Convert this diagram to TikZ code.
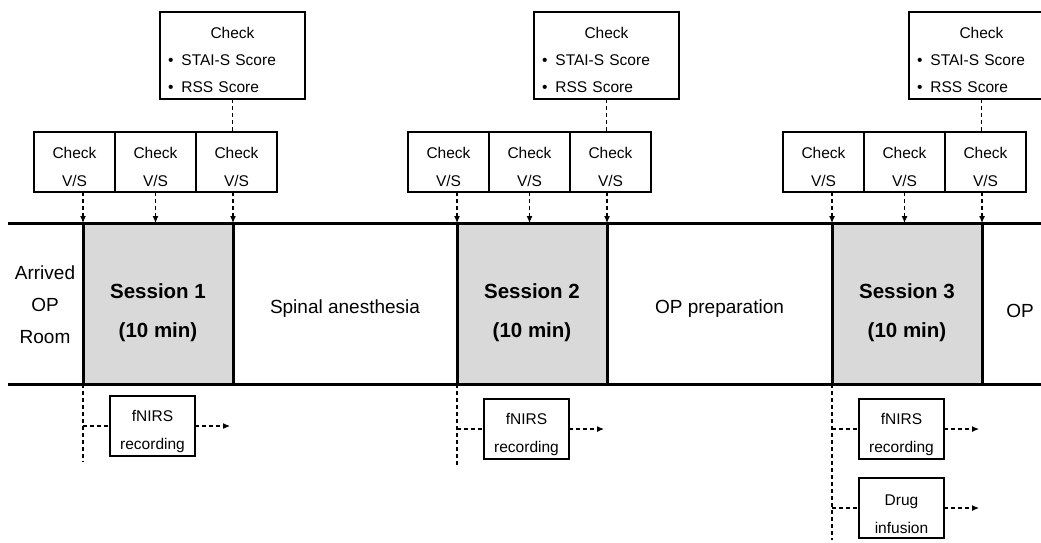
\documentclass[tikz,border=0pt]{standalone}
\usepackage{fontspec}
\setmainfont{Liberation Sans}
\usetikzlibrary{arrows.meta, positioning, calc}
\definecolor{sessiongray}{HTML}{D9D9D9}

\begin{document}
\begin{tikzpicture}[
    x=1pt, y=-1pt,
    node distance=0pt,
    vsbox/.style={draw, line width=1.4pt, outer sep=0pt, inner sep=0pt,
                  minimum width=81pt, minimum height=60pt, align=center,
                  text height=49pt, font=\fontsize{15.5}{28}\selectfont},
    scorebox/.style={draw, line width=1.4pt, outer sep=0pt, inner xsep=8pt, inner ysep=0pt,
                  text width=129pt, minimum height=87pt, align=left,
                  text height=21pt, font=\fontsize{15.5}{27}\selectfont},
    recbox/.style={draw, line width=1.4pt, outer sep=0pt, inner sep=0pt,
                  minimum width=85pt, minimum height=60pt, align=center,
                  text height=51pt, font=\fontsize{15.5}{28}\selectfont},
    session/.style={draw, line width=3pt, fill=sessiongray, outer sep=0pt,
                  minimum width=150pt, minimum height=161pt, align=center,
                  text height=73pt, font=\bfseries\fontsize{20.5}{39}\selectfont},
    phase/.style={align=center, font=\fontsize{19}{32}\selectfont},
    link/.style={dash pattern=on 4pt off 3pt, line width=1.1pt},
    arrow/.style={link, -{Latex[length=7pt, width=6pt]}}
]
\useasboundingbox (0,0) rectangle (1041,542);

\foreach \i/\L/\F/\E in {1/83/426/462, 2/457/429/467, 3/832/429/540} {
    \node[session] (s\i) at (\L+75,303.5) {Session \i\\(10 min)};
    \node[vsbox, anchor=south east] (vsa\i) at (\L+32,192) {Check\\V/S};
    \node[vsbox, right=of vsa\i] (vsb\i) {Check\\V/S};
    \node[vsbox, right=of vsb\i] (vsc\i) {Check\\V/S};
    \node[scorebox, anchor=north west] (score\i) at (\L+77,12)
        {\makebox[\linewidth]{Check}\\ \textbullet\hspace{8pt}STAI-S Score\\ \textbullet\hspace{8pt}RSS Score};
    \node[recbox] (rec\i) at (\L+69.5,\F) {fNIRS\\recording};
    \coordinate (end\i) at (\L,\E);
    \coordinate (out\i) at (\L+147,\F);

    % vital signs checked at the session borders
    \draw[arrow] (vsa\i.south -| s\i.west) -- (s\i.north west);
    \draw[arrow] (vsb\i.south) -- (vsb\i.south |- s\i.north);
    \draw[arrow] (vsc\i.south -| s\i.east) -- (s\i.north east);
    \draw[link] (score\i.south) -- (score\i.south |- vsc\i.north);

    % recording branch below the timeline
    \draw[link] (s\i.south west) -- (end\i);
    \draw[link] (rec\i.west -| end\i) -- (rec\i.west);
    \draw[arrow] (rec\i.east) -- (out\i);
}

\node[recbox, below=19pt of rec3] (drug) {Drug\\infusion};
\coordinate (drugout) at (out3 |- drug.east);
\draw[link] (drug.west -| end3) -- (drug.west);
\draw[arrow] (drug.east) -- (drugout);

% timeline band
\draw[line width=3pt] (8,223) -- (1045,223);
\draw[line width=3pt] (8,384) -- (1045,384);

\node[phase] (arrived) at (45,305) {Arrived\\OP\\Room};
\node[phase] (spinal) at ($(s1.east)!0.5!(s2.west)+(0,5)$) {Spinal anesthesia};
\node[phase] (prep) at ($(s2.east)!0.5!(s3.west)+(0,5)$) {OP preparation};
\node[phase] (op) at (1020,311) {OP};

\end{tikzpicture}
\end{document}
